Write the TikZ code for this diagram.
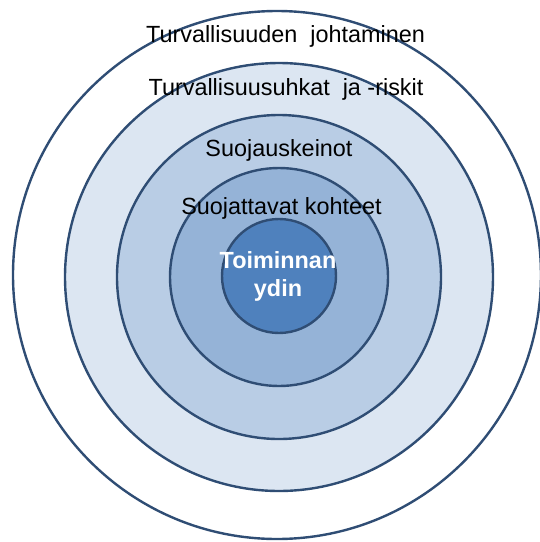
\documentclass[tikz,border=0pt]{standalone}
\usepackage{fontspec}
\setmainfont{Liberation Sans}
\definecolor{ringline}{HTML}{2F4D74}
\definecolor{ringA}{HTML}{FFFFFF}
\definecolor{ringB}{HTML}{DCE6F2}
\definecolor{ringC}{HTML}{B9CDE5}
\definecolor{ringD}{HTML}{95B3D7}
\definecolor{ringE}{HTML}{4F81BD}
\begin{document}
\begin{tikzpicture}[x=1pt,y=-1pt,
  ring/.style={circle, draw=ringline, line width=2.4pt, inner sep=0pt, outer sep=0pt},
  lbl/.style={font=\fontsize{23.4}{28}\selectfont, text=black, inner sep=0pt},
  corelbl/.style={font=\fontsize{23.4}{28}\selectfont\bfseries, text=white, align=center, inner sep=0pt}]
\useasboundingbox (0,0) rectangle (540,542);
\node[ring, fill=ringA, minimum size=528pt] (r1) at (277,275) {};
\node[ring, fill=ringB, minimum size=428pt] (r2) at (279,277) {};
\node[ring, fill=ringC, minimum size=324pt] (r3) at (279,277) {};
\node[ring, fill=ringD, minimum size=218pt] (r4) at (279,277) {};
\node[ring, fill=ringE, minimum size=114pt] (r5) at (279,276) {};
\node[lbl] (t1) at (285.5,36) {Turvallisuuden\ \ johtaminen};
\node[lbl] (t2) at (286,89) {Turvallisuusuhkat\ \ ja -riskit};
\node[lbl] (t3) at (279,150) {Suojauskeinot};
\node[lbl] (t4) at (281.5,208) {Suojattavat kohteet};
\node[corelbl] (t5) at (278,276) {Toiminnan\\ydin};
\end{tikzpicture}
\end{document}
